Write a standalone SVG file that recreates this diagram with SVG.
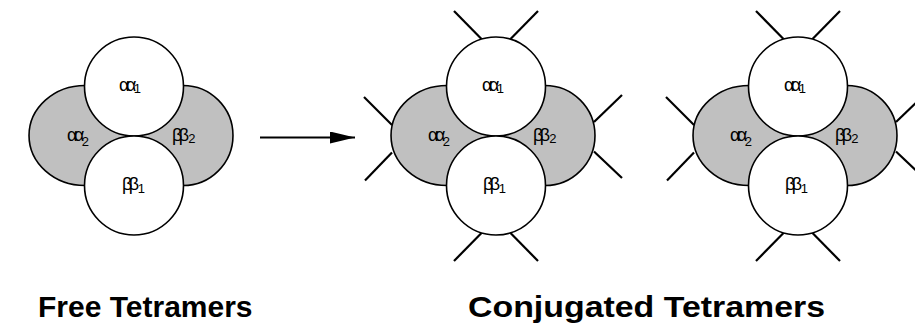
<svg xmlns="http://www.w3.org/2000/svg" width="915" height="329" viewBox="0 0 915 329">
<style>
.lobe{fill:#c0c0c0;stroke:#000;stroke-width:1.6}
.sub{fill:#fff;stroke:#000;stroke-width:1.6}
.lig{stroke:#000;stroke-width:2.2;fill:none}
.lab{font-family:"Liberation Sans",Arial,sans-serif;font-size:18px;fill:#000}
.dbl{letter-spacing:-3.5px}
.idx{font-size:13px}
.title{font-family:"Liberation Sans",Arial,sans-serif;font-size:30px;font-weight:bold;fill:#000}
</style>
<defs>
<marker id="arrowhead" markerWidth="25" markerHeight="12" refX="25" refY="6" orient="auto" markerUnits="userSpaceOnUse">
<path d="M0,0 L25,6 L0,12 Z" fill="#000"/>
</marker>
<path id="lobes" d="M-49,85.5 H49 A50,50 0 0 1 49,185.5 H-49 A56,50 0 0 1 -49,85.5 Z"/>
<g id="ligandset">
<line x1="-14.5" y1="39" x2="-42" y2="11"/>
<line x1="14.5" y1="39" x2="42" y2="11"/>
<line x1="-14.5" y1="233" x2="-42" y2="261"/>
<line x1="14.5" y1="233" x2="42" y2="261"/>
<line x1="-104" y1="125" x2="-132" y2="97"/>
<line x1="-104" y1="152.5" x2="-131" y2="180.5"/>
<line x1="98" y1="122" x2="126" y2="95"/>
<line x1="98" y1="151.5" x2="126" y2="178"/>
</g>
</defs>

<g id="free-tetramer" transform="translate(134,0)">
<g id="free-lobes"><use href="#lobes" class="lobe"/></g>
<g id="free-alpha2"><text class="lab" x="-67" y="141"><tspan class="dbl">αα</tspan><tspan class="idx" dx="1" dy="5">2</tspan></text></g>
<g id="free-beta2"><text class="lab" x="38" y="141"><tspan class="dbl">ββ</tspan><tspan class="idx" dx="2.5" dy="2">2</tspan></text></g>
<g id="free-alpha1"><circle class="sub" cx="0" cy="86.5" r="49.5"/><text class="lab" x="-15" y="91"><tspan class="dbl">αα</tspan><tspan class="idx" dx="1" dy="2">1</tspan></text></g>
<g id="free-beta1"><circle class="sub" cx="0" cy="185.5" r="49.5"/><text class="lab" x="-12" y="190"><tspan class="dbl">ββ</tspan><tspan class="idx" dx="2" dy="3">1</tspan></text></g>
</g>

<g id="conj-tetramer-1" transform="translate(496,0)">
<g id="conj1-ligands" class="lig"><use href="#ligandset"/></g>
<g id="conj1-lobes"><use href="#lobes" class="lobe"/></g>
<g id="conj1-alpha2"><text class="lab" x="-68" y="141"><tspan class="dbl">αα</tspan><tspan class="idx" dx="1" dy="5">2</tspan></text></g>
<g id="conj1-beta2"><text class="lab" x="37" y="141"><tspan class="dbl">ββ</tspan><tspan class="idx" dx="2.5" dy="2">2</tspan></text></g>
<g id="conj1-alpha1"><circle class="sub" cx="0" cy="86.5" r="49.5"/><text class="lab" x="-14" y="91"><tspan class="dbl">αα</tspan><tspan class="idx" dx="1" dy="2">1</tspan></text></g>
<g id="conj1-beta1"><circle class="sub" cx="0" cy="185.5" r="49.5"/><text class="lab" x="-13" y="190"><tspan class="dbl">ββ</tspan><tspan class="idx" dx="2" dy="3">1</tspan></text></g>
</g>

<g id="conj-tetramer-2" transform="translate(798,0)">
<g id="conj2-ligands" class="lig"><use href="#ligandset"/></g>
<g id="conj2-lobes"><use href="#lobes" class="lobe"/></g>
<g id="conj2-alpha2"><text class="lab" x="-68" y="141"><tspan class="dbl">αα</tspan><tspan class="idx" dx="1" dy="5">2</tspan></text></g>
<g id="conj2-beta2"><text class="lab" x="37" y="141"><tspan class="dbl">ββ</tspan><tspan class="idx" dx="2.5" dy="2">2</tspan></text></g>
<g id="conj2-alpha1"><circle class="sub" cx="0" cy="86.5" r="49.5"/><text class="lab" x="-14" y="91"><tspan class="dbl">αα</tspan><tspan class="idx" dx="1" dy="2">1</tspan></text></g>
<g id="conj2-beta1"><circle class="sub" cx="0" cy="185.5" r="49.5"/><text class="lab" x="-13" y="190"><tspan class="dbl">ββ</tspan><tspan class="idx" dx="2" dy="3">1</tspan></text></g>
</g>

<g id="connectors">
<line x1="260" y1="137.5" x2="355" y2="137.5" stroke="#000" stroke-width="2" marker-end="url(#arrowhead)"/>
</g>

<g id="captions">
<text class="title" x="38" y="316.5">Free Tetramers</text>
<text class="title" x="468" y="316.5" textLength="357" lengthAdjust="spacingAndGlyphs">Conjugated Tetramers</text>
</g>
</svg>
